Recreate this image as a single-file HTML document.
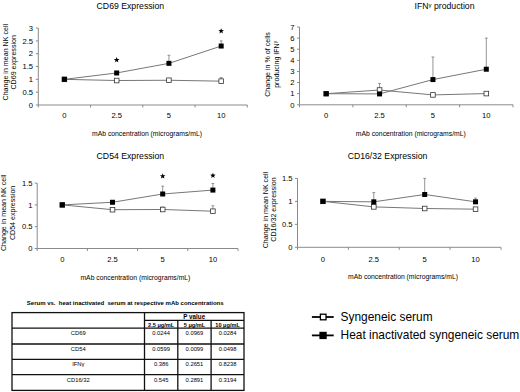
<!DOCTYPE html>
<html><head><meta charset="utf-8"><style>
html,body{margin:0;padding:0;background:#fff;}
body{width:520px;height:392px;overflow:hidden;}
svg{display:block;font-family:"Liberation Sans", sans-serif;}
</style></head><body>
<svg width="520" height="392" viewBox="0 0 520 392">
<rect width="520" height="392" fill="#fff"/>
<line x1="38.30" y1="28.10" x2="38.30" y2="105.00" stroke="#8a8a8a" stroke-width="1"/>
<line x1="38.30" y1="105.00" x2="247.30" y2="105.00" stroke="#8a8a8a" stroke-width="1"/>
<line x1="35.80" y1="105.00" x2="38.30" y2="105.00" stroke="#8a8a8a" stroke-width="1"/>
<text x="33.10" y="107.70" font-size="7.6" text-anchor="end" font-weight="normal" fill="#000" >0</text>
<line x1="35.80" y1="92.18" x2="38.30" y2="92.18" stroke="#8a8a8a" stroke-width="1"/>
<text x="33.10" y="94.88" font-size="7.6" text-anchor="end" font-weight="normal" fill="#000" >0.5</text>
<line x1="35.80" y1="79.37" x2="38.30" y2="79.37" stroke="#8a8a8a" stroke-width="1"/>
<text x="33.10" y="82.07" font-size="7.6" text-anchor="end" font-weight="normal" fill="#000" >1</text>
<line x1="35.80" y1="66.55" x2="38.30" y2="66.55" stroke="#8a8a8a" stroke-width="1"/>
<text x="33.10" y="69.25" font-size="7.6" text-anchor="end" font-weight="normal" fill="#000" >1.5</text>
<line x1="35.80" y1="53.73" x2="38.30" y2="53.73" stroke="#8a8a8a" stroke-width="1"/>
<text x="33.10" y="56.43" font-size="7.6" text-anchor="end" font-weight="normal" fill="#000" >2</text>
<line x1="35.80" y1="40.92" x2="38.30" y2="40.92" stroke="#8a8a8a" stroke-width="1"/>
<text x="33.10" y="43.62" font-size="7.6" text-anchor="end" font-weight="normal" fill="#000" >2.5</text>
<line x1="35.80" y1="28.10" x2="38.30" y2="28.10" stroke="#8a8a8a" stroke-width="1"/>
<text x="33.10" y="30.80" font-size="7.6" text-anchor="end" font-weight="normal" fill="#000" >3</text>
<line x1="38.30" y1="105.00" x2="38.30" y2="107.50" stroke="#8a8a8a" stroke-width="1"/>
<line x1="90.55" y1="105.00" x2="90.55" y2="107.50" stroke="#8a8a8a" stroke-width="1"/>
<line x1="142.80" y1="105.00" x2="142.80" y2="107.50" stroke="#8a8a8a" stroke-width="1"/>
<line x1="195.05" y1="105.00" x2="195.05" y2="107.50" stroke="#8a8a8a" stroke-width="1"/>
<line x1="247.30" y1="105.00" x2="247.30" y2="107.50" stroke="#8a8a8a" stroke-width="1"/>
<text x="64.42" y="118.00" font-size="7.6" text-anchor="middle" font-weight="normal" fill="#000" >0</text>
<text x="116.67" y="118.00" font-size="7.6" text-anchor="middle" font-weight="normal" fill="#000" >2.5</text>
<text x="168.93" y="118.00" font-size="7.6" text-anchor="middle" font-weight="normal" fill="#000" >5</text>
<text x="221.18" y="118.00" font-size="7.6" text-anchor="middle" font-weight="normal" fill="#000" >10</text>
<text x="147.00" y="136.30" font-size="6.8" text-anchor="middle" font-weight="normal" fill="#000" >mAb concentration (micrograms/mL)</text>
<text x="0" y="0" font-size="7.1" text-anchor="middle" transform="translate(7.6,62.2) rotate(-90)">Change in mean NK cell</text>
<text x="0" y="0" font-size="7.1" text-anchor="middle" transform="translate(16.0,62.3) rotate(-90)">CD69 expression</text>
<text x="130.40" y="9.00" font-size="8.7" text-anchor="middle" font-weight="normal" fill="#000" >CD69 Expression</text>
<polyline points="64.42,79.37 116.67,80.52 168.93,80.26 221.18,81.16" fill="none" stroke="#777" stroke-width="1"/>
<polyline points="64.42,79.37 116.67,72.96 168.93,63.35 221.18,46.04" fill="none" stroke="#777" stroke-width="1"/>
<line x1="221.18" y1="81.16" x2="221.18" y2="77.57" stroke="#7a7a7a" stroke-width="0.8"/>
<line x1="219.78" y1="77.57" x2="222.58" y2="77.57" stroke="#7a7a7a" stroke-width="0.8"/>
<line x1="168.93" y1="63.35" x2="168.93" y2="55.27" stroke="#7a7a7a" stroke-width="0.8"/>
<line x1="167.53" y1="55.27" x2="170.33" y2="55.27" stroke="#7a7a7a" stroke-width="0.8"/>
<line x1="221.18" y1="46.04" x2="221.18" y2="40.92" stroke="#7a7a7a" stroke-width="0.8"/>
<line x1="219.78" y1="40.92" x2="222.58" y2="40.92" stroke="#7a7a7a" stroke-width="0.8"/>
<rect x="62.12" y="77.07" width="4.6" height="4.6" fill="#fff" stroke="#333" stroke-width="0.8"/>
<rect x="114.38" y="78.22" width="4.6" height="4.6" fill="#fff" stroke="#333" stroke-width="0.8"/>
<rect x="166.62" y="77.96" width="4.6" height="4.6" fill="#fff" stroke="#333" stroke-width="0.8"/>
<rect x="218.88" y="78.86" width="4.6" height="4.6" fill="#fff" stroke="#333" stroke-width="0.8"/>
<rect x="61.92" y="76.87" width="5" height="5" fill="#000"/>
<rect x="114.17" y="70.46" width="5" height="5" fill="#000"/>
<rect x="166.43" y="60.85" width="5" height="5" fill="#000"/>
<rect x="218.68" y="43.54" width="5" height="5" fill="#000"/>
<polygon points="116.67,57.10 117.41,58.99 119.43,59.10 117.86,60.39 118.38,62.35 116.67,61.25 114.97,62.35 115.49,60.39 113.92,59.10 115.94,58.99" fill="#000"/>
<polygon points="221.18,28.20 221.91,30.09 223.93,30.20 222.36,31.49 222.88,33.45 221.18,32.35 219.47,33.45 219.99,31.49 218.42,30.20 220.44,30.09" fill="#000"/>
<line x1="299.50" y1="27.00" x2="299.50" y2="104.80" stroke="#8a8a8a" stroke-width="1"/>
<line x1="299.50" y1="104.80" x2="513.00" y2="104.80" stroke="#8a8a8a" stroke-width="1"/>
<line x1="297.00" y1="104.80" x2="299.50" y2="104.80" stroke="#8a8a8a" stroke-width="1"/>
<text x="294.50" y="107.50" font-size="7.6" text-anchor="end" font-weight="normal" fill="#000" >0</text>
<line x1="297.00" y1="93.69" x2="299.50" y2="93.69" stroke="#8a8a8a" stroke-width="1"/>
<text x="294.50" y="96.39" font-size="7.6" text-anchor="end" font-weight="normal" fill="#000" >1</text>
<line x1="297.00" y1="82.57" x2="299.50" y2="82.57" stroke="#8a8a8a" stroke-width="1"/>
<text x="294.50" y="85.27" font-size="7.6" text-anchor="end" font-weight="normal" fill="#000" >2</text>
<line x1="297.00" y1="71.46" x2="299.50" y2="71.46" stroke="#8a8a8a" stroke-width="1"/>
<text x="294.50" y="74.16" font-size="7.6" text-anchor="end" font-weight="normal" fill="#000" >3</text>
<line x1="297.00" y1="60.34" x2="299.50" y2="60.34" stroke="#8a8a8a" stroke-width="1"/>
<text x="294.50" y="63.04" font-size="7.6" text-anchor="end" font-weight="normal" fill="#000" >4</text>
<line x1="297.00" y1="49.23" x2="299.50" y2="49.23" stroke="#8a8a8a" stroke-width="1"/>
<text x="294.50" y="51.93" font-size="7.6" text-anchor="end" font-weight="normal" fill="#000" >5</text>
<line x1="297.00" y1="38.11" x2="299.50" y2="38.11" stroke="#8a8a8a" stroke-width="1"/>
<text x="294.50" y="40.81" font-size="7.6" text-anchor="end" font-weight="normal" fill="#000" >6</text>
<line x1="297.00" y1="27.00" x2="299.50" y2="27.00" stroke="#8a8a8a" stroke-width="1"/>
<text x="294.50" y="29.70" font-size="7.6" text-anchor="end" font-weight="normal" fill="#000" >7</text>
<line x1="299.50" y1="104.80" x2="299.50" y2="107.30" stroke="#8a8a8a" stroke-width="1"/>
<line x1="352.88" y1="104.80" x2="352.88" y2="107.30" stroke="#8a8a8a" stroke-width="1"/>
<line x1="406.25" y1="104.80" x2="406.25" y2="107.30" stroke="#8a8a8a" stroke-width="1"/>
<line x1="459.62" y1="104.80" x2="459.62" y2="107.30" stroke="#8a8a8a" stroke-width="1"/>
<line x1="513.00" y1="104.80" x2="513.00" y2="107.30" stroke="#8a8a8a" stroke-width="1"/>
<text x="326.19" y="118.00" font-size="7.6" text-anchor="middle" font-weight="normal" fill="#000" >0</text>
<text x="379.56" y="118.00" font-size="7.6" text-anchor="middle" font-weight="normal" fill="#000" >2.5</text>
<text x="432.94" y="118.00" font-size="7.6" text-anchor="middle" font-weight="normal" fill="#000" >5</text>
<text x="486.31" y="118.00" font-size="7.6" text-anchor="middle" font-weight="normal" fill="#000" >10</text>
<text x="410.80" y="136.10" font-size="6.8" text-anchor="middle" font-weight="normal" fill="#000" >mAb concentration (micrograms/mL)</text>
<text x="0" y="0" font-size="7.1" text-anchor="middle" transform="translate(270.0,64.5) rotate(-90)">Change in % of cells</text>
<text x="0" y="0" font-size="7.1" text-anchor="middle" transform="translate(278.6,64.3) rotate(-90)">producing IFN<tspan font-size="5" dy="-1.6">&#947;</tspan></text>
<text x="444.50" y="8.70" font-size="8.7" text-anchor="middle" font-weight="normal" fill="#000" >IFN<tspan font-size="6" dy="-1.8">&#947;</tspan><tspan dy="1.8"> production</tspan></text>
<polyline points="326.19,93.69 379.56,90.02 432.94,94.91 486.31,93.57" fill="none" stroke="#777" stroke-width="1"/>
<polyline points="326.19,93.69 379.56,93.91 432.94,79.57 486.31,69.23" fill="none" stroke="#777" stroke-width="1"/>
<line x1="379.56" y1="90.02" x2="379.56" y2="83.46" stroke="#7a7a7a" stroke-width="0.8"/>
<line x1="378.16" y1="83.46" x2="380.96" y2="83.46" stroke="#7a7a7a" stroke-width="0.8"/>
<line x1="432.94" y1="79.57" x2="432.94" y2="57.01" stroke="#7a7a7a" stroke-width="0.8"/>
<line x1="431.54" y1="57.01" x2="434.34" y2="57.01" stroke="#7a7a7a" stroke-width="0.8"/>
<line x1="486.31" y1="69.23" x2="486.31" y2="38.11" stroke="#7a7a7a" stroke-width="0.8"/>
<line x1="484.91" y1="38.11" x2="487.71" y2="38.11" stroke="#7a7a7a" stroke-width="0.8"/>
<rect x="323.89" y="91.39" width="4.6" height="4.6" fill="#fff" stroke="#333" stroke-width="0.8"/>
<rect x="377.26" y="87.72" width="4.6" height="4.6" fill="#fff" stroke="#333" stroke-width="0.8"/>
<rect x="430.64" y="92.61" width="4.6" height="4.6" fill="#fff" stroke="#333" stroke-width="0.8"/>
<rect x="484.01" y="91.27" width="4.6" height="4.6" fill="#fff" stroke="#333" stroke-width="0.8"/>
<rect x="323.69" y="91.19" width="5" height="5" fill="#000"/>
<rect x="377.06" y="91.41" width="5" height="5" fill="#000"/>
<rect x="430.44" y="77.07" width="5" height="5" fill="#000"/>
<rect x="483.81" y="66.73" width="5" height="5" fill="#000"/>
<line x1="37.20" y1="183.10" x2="37.20" y2="248.50" stroke="#8a8a8a" stroke-width="1"/>
<line x1="37.20" y1="248.50" x2="238.00" y2="248.50" stroke="#8a8a8a" stroke-width="1"/>
<line x1="34.70" y1="248.50" x2="37.20" y2="248.50" stroke="#8a8a8a" stroke-width="1"/>
<text x="32.60" y="251.20" font-size="7.6" text-anchor="end" font-weight="normal" fill="#000" >0</text>
<line x1="34.70" y1="226.70" x2="37.20" y2="226.70" stroke="#8a8a8a" stroke-width="1"/>
<text x="32.60" y="229.40" font-size="7.6" text-anchor="end" font-weight="normal" fill="#000" >0.5</text>
<line x1="34.70" y1="204.90" x2="37.20" y2="204.90" stroke="#8a8a8a" stroke-width="1"/>
<text x="32.60" y="207.60" font-size="7.6" text-anchor="end" font-weight="normal" fill="#000" >1</text>
<line x1="34.70" y1="183.10" x2="37.20" y2="183.10" stroke="#8a8a8a" stroke-width="1"/>
<text x="32.60" y="185.80" font-size="7.6" text-anchor="end" font-weight="normal" fill="#000" >1.5</text>
<line x1="37.20" y1="248.50" x2="37.20" y2="251.00" stroke="#8a8a8a" stroke-width="1"/>
<line x1="87.40" y1="248.50" x2="87.40" y2="251.00" stroke="#8a8a8a" stroke-width="1"/>
<line x1="137.60" y1="248.50" x2="137.60" y2="251.00" stroke="#8a8a8a" stroke-width="1"/>
<line x1="187.80" y1="248.50" x2="187.80" y2="251.00" stroke="#8a8a8a" stroke-width="1"/>
<line x1="238.00" y1="248.50" x2="238.00" y2="251.00" stroke="#8a8a8a" stroke-width="1"/>
<text x="62.30" y="261.90" font-size="7.6" text-anchor="middle" font-weight="normal" fill="#000" >0</text>
<text x="112.50" y="261.90" font-size="7.6" text-anchor="middle" font-weight="normal" fill="#000" >2.5</text>
<text x="162.70" y="261.90" font-size="7.6" text-anchor="middle" font-weight="normal" fill="#000" >5</text>
<text x="212.90" y="261.90" font-size="7.6" text-anchor="middle" font-weight="normal" fill="#000" >10</text>
<text x="135.40" y="279.50" font-size="6.8" text-anchor="middle" font-weight="normal" fill="#000" >mAb concentration (micrograms/mL)</text>
<text x="0" y="0" font-size="7.1" text-anchor="middle" transform="translate(6.4,212.8) rotate(-90)">Change in mean NK cell</text>
<text x="0" y="0" font-size="7.1" text-anchor="middle" transform="translate(15.0,212.9) rotate(-90)">CD54 expression</text>
<text x="130.40" y="159.20" font-size="8.7" text-anchor="middle" font-weight="normal" fill="#000" >CD54 Expression</text>
<polyline points="62.30,204.90 112.50,209.70 162.70,209.48 212.90,211.22" fill="none" stroke="#777" stroke-width="1"/>
<polyline points="62.30,204.90 112.50,202.28 162.70,194.00 212.90,190.08" fill="none" stroke="#777" stroke-width="1"/>
<line x1="162.70" y1="209.48" x2="162.70" y2="207.08" stroke="#7a7a7a" stroke-width="0.8"/>
<line x1="161.30" y1="207.08" x2="164.10" y2="207.08" stroke="#7a7a7a" stroke-width="0.8"/>
<line x1="212.90" y1="211.22" x2="212.90" y2="205.77" stroke="#7a7a7a" stroke-width="0.8"/>
<line x1="211.50" y1="205.77" x2="214.30" y2="205.77" stroke="#7a7a7a" stroke-width="0.8"/>
<line x1="162.70" y1="194.00" x2="162.70" y2="186.15" stroke="#7a7a7a" stroke-width="0.8"/>
<line x1="161.30" y1="186.15" x2="164.10" y2="186.15" stroke="#7a7a7a" stroke-width="0.8"/>
<line x1="212.90" y1="190.08" x2="212.90" y2="183.54" stroke="#7a7a7a" stroke-width="0.8"/>
<line x1="211.50" y1="183.54" x2="214.30" y2="183.54" stroke="#7a7a7a" stroke-width="0.8"/>
<rect x="60.00" y="202.60" width="4.6" height="4.6" fill="#fff" stroke="#333" stroke-width="0.8"/>
<rect x="110.20" y="207.40" width="4.6" height="4.6" fill="#fff" stroke="#333" stroke-width="0.8"/>
<rect x="160.40" y="207.18" width="4.6" height="4.6" fill="#fff" stroke="#333" stroke-width="0.8"/>
<rect x="210.60" y="208.92" width="4.6" height="4.6" fill="#fff" stroke="#333" stroke-width="0.8"/>
<rect x="59.80" y="202.40" width="5" height="5" fill="#000"/>
<rect x="110.00" y="199.78" width="5" height="5" fill="#000"/>
<rect x="160.20" y="191.50" width="5" height="5" fill="#000"/>
<rect x="210.40" y="187.58" width="5" height="5" fill="#000"/>
<polygon points="162.70,173.30 163.43,175.19 165.46,175.30 163.89,176.59 164.40,178.55 162.70,177.45 161.00,178.55 161.51,176.59 159.94,175.30 161.97,175.19" fill="#000"/>
<polygon points="212.90,172.70 213.63,174.59 215.66,174.70 214.09,175.99 214.60,177.95 212.90,176.85 211.20,177.95 211.71,175.99 210.14,174.70 212.17,174.59" fill="#000"/>
<line x1="297.50" y1="178.40" x2="297.50" y2="247.30" stroke="#8a8a8a" stroke-width="1"/>
<line x1="297.50" y1="247.30" x2="501.00" y2="247.30" stroke="#8a8a8a" stroke-width="1"/>
<line x1="295.00" y1="247.30" x2="297.50" y2="247.30" stroke="#8a8a8a" stroke-width="1"/>
<text x="292.60" y="250.00" font-size="7.6" text-anchor="end" font-weight="normal" fill="#000" >0</text>
<line x1="295.00" y1="224.33" x2="297.50" y2="224.33" stroke="#8a8a8a" stroke-width="1"/>
<text x="292.60" y="227.03" font-size="7.6" text-anchor="end" font-weight="normal" fill="#000" >0.5</text>
<line x1="295.00" y1="201.37" x2="297.50" y2="201.37" stroke="#8a8a8a" stroke-width="1"/>
<text x="292.60" y="204.07" font-size="7.6" text-anchor="end" font-weight="normal" fill="#000" >1</text>
<line x1="295.00" y1="178.40" x2="297.50" y2="178.40" stroke="#8a8a8a" stroke-width="1"/>
<text x="292.60" y="181.10" font-size="7.6" text-anchor="end" font-weight="normal" fill="#000" >1.5</text>
<line x1="297.50" y1="247.30" x2="297.50" y2="249.80" stroke="#8a8a8a" stroke-width="1"/>
<line x1="348.38" y1="247.30" x2="348.38" y2="249.80" stroke="#8a8a8a" stroke-width="1"/>
<line x1="399.25" y1="247.30" x2="399.25" y2="249.80" stroke="#8a8a8a" stroke-width="1"/>
<line x1="450.12" y1="247.30" x2="450.12" y2="249.80" stroke="#8a8a8a" stroke-width="1"/>
<line x1="501.00" y1="247.30" x2="501.00" y2="249.80" stroke="#8a8a8a" stroke-width="1"/>
<text x="322.94" y="261.90" font-size="7.6" text-anchor="middle" font-weight="normal" fill="#000" >0</text>
<text x="373.81" y="261.90" font-size="7.6" text-anchor="middle" font-weight="normal" fill="#000" >2.5</text>
<text x="424.69" y="261.90" font-size="7.6" text-anchor="middle" font-weight="normal" fill="#000" >5</text>
<text x="475.56" y="261.90" font-size="7.6" text-anchor="middle" font-weight="normal" fill="#000" >10</text>
<text x="403.00" y="279.20" font-size="6.8" text-anchor="middle" font-weight="normal" fill="#000" >mAb concentration (micrograms/mL)</text>
<text x="0" y="0" font-size="7.1" text-anchor="middle" transform="translate(268.0,210.0) rotate(-90)">Change in mean NK cell</text>
<text x="0" y="0" font-size="7.1" text-anchor="middle" transform="translate(276.3,209.5) rotate(-90)">CD16/32 expression</text>
<text x="387.50" y="159.20" font-size="8.7" text-anchor="middle" font-weight="normal" fill="#000" >CD16/32 Expression</text>
<polyline points="322.94,201.37 373.81,206.88 424.69,208.49 475.56,209.18" fill="none" stroke="#777" stroke-width="1"/>
<polyline points="322.94,201.37 373.81,201.83 424.69,194.48 475.56,201.83" fill="none" stroke="#777" stroke-width="1"/>
<line x1="373.81" y1="201.83" x2="373.81" y2="192.64" stroke="#7a7a7a" stroke-width="0.8"/>
<line x1="372.41" y1="192.64" x2="375.21" y2="192.64" stroke="#7a7a7a" stroke-width="0.8"/>
<line x1="424.69" y1="194.48" x2="424.69" y2="178.40" stroke="#7a7a7a" stroke-width="0.8"/>
<line x1="423.29" y1="178.40" x2="426.09" y2="178.40" stroke="#7a7a7a" stroke-width="0.8"/>
<line x1="475.56" y1="201.83" x2="475.56" y2="198.15" stroke="#7a7a7a" stroke-width="0.8"/>
<line x1="474.16" y1="198.15" x2="476.96" y2="198.15" stroke="#7a7a7a" stroke-width="0.8"/>
<rect x="320.64" y="199.07" width="4.6" height="4.6" fill="#fff" stroke="#333" stroke-width="0.8"/>
<rect x="371.51" y="204.58" width="4.6" height="4.6" fill="#fff" stroke="#333" stroke-width="0.8"/>
<rect x="422.39" y="206.19" width="4.6" height="4.6" fill="#fff" stroke="#333" stroke-width="0.8"/>
<rect x="473.26" y="206.88" width="4.6" height="4.6" fill="#fff" stroke="#333" stroke-width="0.8"/>
<rect x="320.44" y="198.87" width="5" height="5" fill="#000"/>
<rect x="371.31" y="199.33" width="5" height="5" fill="#000"/>
<rect x="422.19" y="191.98" width="5" height="5" fill="#000"/>
<rect x="473.06" y="199.33" width="5" height="5" fill="#000"/>
<text x="125.20" y="305.30" font-size="6.0" text-anchor="middle" font-weight="bold" fill="#000" >Serum vs.&#160; heat inactivated&#160; serum at respective mAb concentrations</text>
<rect x="12" y="312.6" width="232.0" height="77.79999999999995" fill="none" stroke="#111" stroke-width="1.3"/>
<line x1="144.50" y1="312.60" x2="144.50" y2="390.40" stroke="#111" stroke-width="1.3"/>
<line x1="144.50" y1="320.40" x2="244.00" y2="320.40" stroke="#111" stroke-width="1.1"/>
<line x1="177.80" y1="320.40" x2="177.80" y2="390.40" stroke="#111" stroke-width="1.3"/>
<line x1="211.10" y1="320.40" x2="211.10" y2="390.40" stroke="#111" stroke-width="1.3"/>
<line x1="12.00" y1="328.10" x2="244.00" y2="328.10" stroke="#111" stroke-width="1.3"/>
<line x1="12.00" y1="344.00" x2="244.00" y2="344.00" stroke="#111" stroke-width="1.3"/>
<line x1="12.00" y1="359.30" x2="244.00" y2="359.30" stroke="#111" stroke-width="1.3"/>
<line x1="12.00" y1="374.70" x2="244.00" y2="374.70" stroke="#111" stroke-width="1.3"/>
<text x="194.25" y="318.60" font-size="6.3" text-anchor="middle" font-weight="bold" fill="#000" >P value</text>
<text x="161.15" y="326.80" font-size="5.6" text-anchor="middle" font-weight="bold" fill="#000" >2.5 &#956;g/mL</text>
<text x="194.45" y="326.80" font-size="5.6" text-anchor="middle" font-weight="bold" fill="#000" >5 &#956;g/mL</text>
<text x="227.55" y="326.80" font-size="5.6" text-anchor="middle" font-weight="bold" fill="#000" >10 &#956;g/mL</text>
<text x="78.25" y="335.10" font-size="5.8" text-anchor="middle" font-weight="normal" fill="#000" >CD69</text>
<text x="161.15" y="335.10" font-size="5.8" text-anchor="middle" font-weight="normal" fill="#000" >0.0244</text>
<text x="194.45" y="335.10" font-size="5.8" text-anchor="middle" font-weight="normal" fill="#000" >0.0969</text>
<text x="227.55" y="335.10" font-size="5.8" text-anchor="middle" font-weight="normal" fill="#000" >0.0284</text>
<text x="78.25" y="351.00" font-size="5.8" text-anchor="middle" font-weight="normal" fill="#000" >CD54</text>
<text x="161.15" y="351.00" font-size="5.8" text-anchor="middle" font-weight="normal" fill="#000" >0.0599</text>
<text x="194.45" y="351.00" font-size="5.8" text-anchor="middle" font-weight="normal" fill="#000" >0.0099</text>
<text x="227.55" y="351.00" font-size="5.8" text-anchor="middle" font-weight="normal" fill="#000" >0.0498</text>
<text x="78.25" y="366.30" font-size="5.8" text-anchor="middle" font-weight="normal" fill="#000" >IFN&#947;</text>
<text x="161.15" y="366.30" font-size="5.8" text-anchor="middle" font-weight="normal" fill="#000" >0.386</text>
<text x="194.45" y="366.30" font-size="5.8" text-anchor="middle" font-weight="normal" fill="#000" >0.2651</text>
<text x="227.55" y="366.30" font-size="5.8" text-anchor="middle" font-weight="normal" fill="#000" >0.8238</text>
<text x="78.25" y="381.70" font-size="5.8" text-anchor="middle" font-weight="normal" fill="#000" >CD16/32</text>
<text x="161.15" y="381.70" font-size="5.8" text-anchor="middle" font-weight="normal" fill="#000" >0.545</text>
<text x="194.45" y="381.70" font-size="5.8" text-anchor="middle" font-weight="normal" fill="#000" >0.2891</text>
<text x="227.55" y="381.70" font-size="5.8" text-anchor="middle" font-weight="normal" fill="#000" >0.3194</text>
<line x1="311.90" y1="317.00" x2="333.70" y2="317.00" stroke="#000" stroke-width="1.8"/>
<rect x="320.4" y="314.2" width="5.6" height="5.6" fill="#fff" stroke="#000" stroke-width="1.3"/>
<text x="340.60" y="320.80" font-size="11.92" text-anchor="start" font-weight="normal" fill="#000" >Syngeneic serum</text>
<line x1="311.90" y1="335.40" x2="333.70" y2="335.40" stroke="#000" stroke-width="1.8"/>
<rect x="319.4" y="331.8" width="7.3" height="7.3" fill="#000"/>
<text x="340.60" y="339.20" font-size="11.92" text-anchor="start" font-weight="normal" fill="#000" >Heat inactivated syngeneic serum</text>
</svg>
</body></html>
